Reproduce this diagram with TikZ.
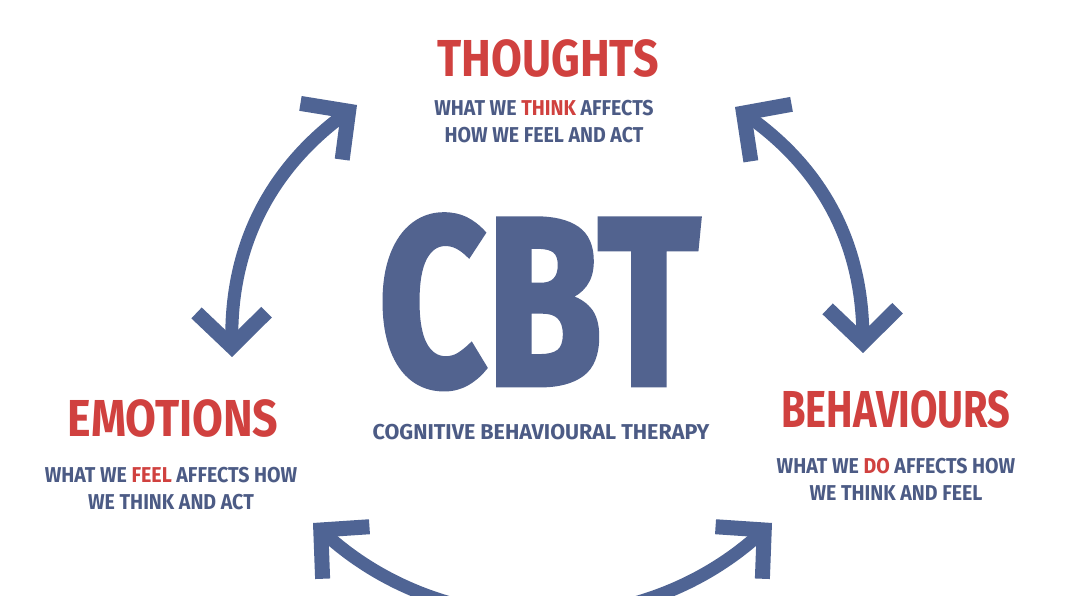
\documentclass[tikz,border=0pt]{standalone}
\usepackage{fontspec}
\setmainfont{Fira Sans}
\newfontfamily\headfont[FakeStretch=0.86]{Fira Sans}
\newfontfamily\descfont[FakeStretch=0.91]{Fira Sans}
\newfontfamily\cbtfont[FakeStretch=0.78,FakeBold=2]{Fira Sans}
\usetikzlibrary{arrows.meta}
\definecolor{cbtred}{HTML}{D0413F}
\definecolor{cbtblue}{HTML}{4C5B85}
\definecolor{arrowblue}{HTML}{4F6494}
\definecolor{bigblue}{HTML}{52638F}
\tikzset{
  barb/.tip={Straight Barb[length=34pt,width=70pt,line width=15pt]},
  cyc/.style={line width=13pt, draw=arrowblue, barb-barb},
  title/.style={anchor=base, inner sep=0pt, text=cbtred, font=\headfont\bfseries\fontsize{52}{52}\selectfont},
  desc/.style={anchor=base, inner sep=0pt, text=cbtblue, align=center,
    font=\descfont\bfseries\fontsize{21.5}{27}\selectfont}
}
\newcommand{\hi}[1]{\textcolor{cbtred}{#1}}
\begin{document}
\begin{tikzpicture}[x=1pt,y=1pt]
\clip (0,0) rectangle (1080,595);
\fill[white] (0,0) rectangle (1080,595);
% texts
\node[title] (thoughts) at (548,518) {THOUGHTS};
\node[desc] (thoughtsd) at (544,452) {WHAT WE \hi{THINK} AFFECTS\\HOW WE FEEL AND ACT};
\node[anchor=base, inner sep=0pt, text depth=0pt, text=bigblue, font=\cbtfont\bfseries\fontsize{240}{240}\selectfont] (cbt) at (539,210) {CBT};
\node[desc, xscale=1.1, transform shape] (cbtd) at (541,155) {COGNITIVE BEHAVIOURAL THERAPY};
\node[title] (emotions) at (173,158) {EMOTIONS};
\node[desc] (emotionsd) at (171,85) {WHAT WE \hi{FEEL} AFFECTS HOW\\WE THINK AND ACT};
\node[title, xscale=0.89, transform shape] (behaviours) at (896,167) {BEHAVIOURS};
\node[desc] (behavioursd) at (896,94) {WHAT WE \hi{DO} AFFECTS HOW\\WE THINK AND FEEL};
% arrow ends
\coordinate (t1) at (232,238);
\coordinate (t2) at (357,490);
\coordinate (t3) at (735,488);
\coordinate (t4) at (863,242);
\coordinate (t5) at (313,72);
\coordinate (t6) at (772,72);
\draw[cyc] (t1) to[bend left=27] (t2);
\draw[cyc] (t3) to[bend left=27] (t4);
\draw[cyc] (t5) to[bend right=42] (t6);
\end{tikzpicture}
\end{document}
